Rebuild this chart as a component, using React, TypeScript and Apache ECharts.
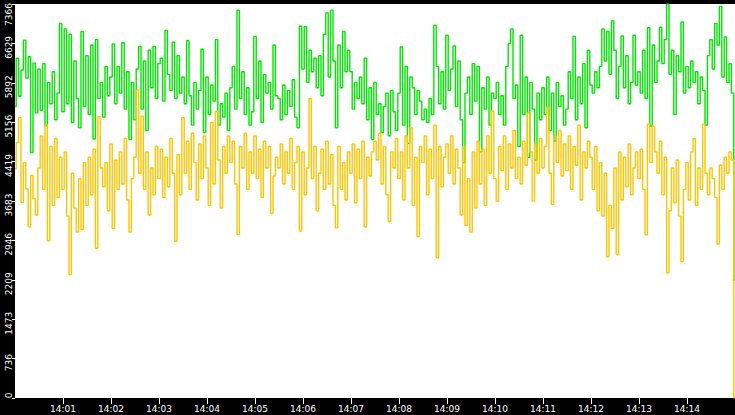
import React, { useEffect, useRef } from 'react';
import * as echarts from 'echarts';

// one sample every 3 seconds, 14:00:00 .. 14:15:00
const times: string[] = [];
for (let s = 0; s <= 900; s += 3) {
  const m = Math.floor(s / 60);
  const sec = s % 60;
  times.push(`14:${String(m).padStart(2, '0')}:${String(sec).padStart(2, '0')}`);
}

const greenValues = [
  5450, 6350, 5640, 6130, 6690, 5980, 6380, 4590, 6260, 5330,
  6150, 5380, 6250, 5090, 5900, 5500, 6100, 5200, 5700, 7000,
  5350, 6900, 5500, 6800, 5150, 6300, 5600, 5050, 6850, 5450,
  6400, 5300, 6600, 4840, 6700, 5600, 5900, 5250, 6200, 5650,
  6000, 6620, 5500, 6200, 5700, 6640, 5400, 6100, 4830, 5900,
  5200, 6150, 6570, 5400, 6300, 5000, 6500, 5800, 6570, 5600,
  6250, 6350, 5550, 6870, 6050, 5750, 6650, 5600, 6400, 5700,
  6000, 5500, 6680, 5650, 5100, 5900, 5400, 5750, 6520, 4960,
  6000, 5300, 5850, 5550, 6700, 5100, 5500, 5250, 5700, 5000,
  5800, 6200, 5400, 7250, 5600, 6100, 5300, 5800, 5100, 5350,
  6760, 5600, 6300, 5150, 6050, 5700, 5900, 5400, 6600, 5650,
  5600, 5200, 5850, 5300, 5750, 5450, 5950, 5250, 5050, 6950,
  6150, 6940, 5900, 6500, 6100, 6350, 5800, 6400, 5650, 6800,
  7200, 6000, 7250, 6300, 5050, 6600, 5800, 6850, 6100, 6500,
  6100, 5400, 5900, 5600, 6000, 5500, 6350, 5200, 5800, 4830,
  5900, 5300, 5500, 4960, 5450, 5700, 4900, 5750, 5350, 5000,
  5700, 6560, 5100, 6200, 4760, 6000, 5800, 5300, 5750, 5550,
  5200, 5400, 5150, 5600, 5300, 6970, 6200, 5500, 6100, 5400,
  6780, 5750, 6150, 6580, 5450, 6300, 5200, 4400, 5700, 6000,
  5300, 6250, 5550, 6200, 4600, 5800, 5400, 6000, 5100, 5700,
  5600, 5900, 5300, 5650, 5100, 6200, 6626, 6900, 5600, 5850,
  4700, 6780, 5300, 6000, 4500, 5900, 5400, 4450, 5700, 5200,
  5800, 5300, 6000, 5000, 5700, 4800, 5900, 5450, 5650, 5100,
  5400, 6100, 5600, 6760, 5200, 6000, 5500, 6250, 5050, 6500,
  5850, 5700, 6100, 5800, 6200, 6900, 6300, 6850, 6050, 7050,
  6500, 5600, 6200, 6770, 5800, 6400, 5500, 5900, 6780, 5850,
  6100, 5700, 6500, 5600, 6920, 5080, 6600, 5900, 6300, 6930,
  6250, 6700, 7366, 6050, 6500, 5300, 6400, 6100, 7030, 5700,
  6200, 5800, 6300, 5900, 6100, 5500, 6000, 5750, 5100, 6400,
  6700, 6150, 7000, 6600, 7320, 6000, 6750, 5900, 6250, 5700,
  2200,
];

const yellowValues = [
  4280, 4775, 5240, 3660, 4400, 3910, 3200, 4160, 3730, 3420,
  4300, 4900, 3900, 5100, 2940, 4700, 3600, 4850, 3750, 4500,
  3900, 4600, 3400, 2310, 4200, 3550, 3100, 4100, 3150, 4400,
  3600, 4500, 3800, 4650, 2800, 5260, 4300, 3950, 4400, 3500,
  4750, 3170, 4450, 3900, 4600, 4000, 4850, 3700, 3100, 4100,
  4500, 5760, 4200, 5270, 3900, 4600, 3420, 4300, 3800, 4700,
  4100, 4650, 3750, 4500, 3950, 4850, 4200, 2930, 4550, 3800,
  5240, 4200, 4800, 3900, 4950, 4400, 3700, 4750, 4100, 4900,
  4300, 3600, 5150, 4000, 5350, 4450, 3550, 4700, 4200, 4900,
  4400, 4800, 4000, 3060, 4700, 4300, 4950, 3900, 4600, 4200,
  4900, 4100, 4650, 3750, 4800, 4300, 4700, 3450, 4150, 4500,
  4300, 4750, 4000, 4600, 4200, 4850, 3900, 4400, 4700, 3120,
  4600, 3800, 4300, 5600, 4100, 4700, 3500, 4200, 4650, 3900,
  4800, 4000, 4550, 3600, 3180, 4700, 3900, 4400, 3700, 4600,
  4200, 4750, 3650, 4650, 4100, 4800, 3200, 4500, 4150, 4600,
  4800, 4450, 4950, 4000, 4700, 3800, 3300, 4600, 4300, 4850,
  4100, 4600, 3700, 4900, 4300, 5050, 3600, 4500, 3020, 4700,
  4400, 4900, 3800, 4650, 4100, 5100, 2620, 4700, 3950, 4500,
  4750, 4200, 4900, 4000, 4650, 4300, 3420, 4700, 3230, 4100,
  3100, 4600, 3550, 4800, 4000, 4650, 3600, 4900, 4200, 5360,
  4100, 3680, 4700, 4250, 4900, 3900, 4750, 4300, 5000, 4100,
  4500, 4000, 4800, 4350, 5330, 4600, 3680, 4750, 4200, 4850,
  4300, 4700, 5430, 4200, 3620, 4900, 4400, 5000, 4150, 4750,
  4250, 4900, 3900, 4700, 4350, 5100, 3700, 4600, 4300, 4800,
  4500, 3900, 4700, 3500, 4400, 3400, 4200, 2640, 3600, 3170,
  4300, 2680, 4600, 3700, 4500, 3950, 4750, 3800, 4300, 4600,
  4100, 4650, 3900, 3050, 5120, 4400, 5080, 4600, 4200, 4800,
  3800, 4500, 2340, 3500, 4300, 3650, 4450, 3400, 2550, 3900,
  4400, 3700, 4600, 4850, 3600, 4300, 3900, 5120, 4200, 3800,
  4300, 4100, 3750, 2880, 4350, 3900, 4500, 4200, 4600, 4450,
  0,
];

const yMax = 7366;
const yStep = 736.6;

const showMinute = (i: number) => i % 20 === 0 && i > 0 && i < times.length - 1;

const App: React.FC = () => {
  const chartRef = useRef<HTMLDivElement>(null);

  useEffect(() => {
    if (!chartRef.current) return;
    document.body.style.margin = '0';
    const chart = echarts.init(chartRef.current, undefined, { renderer: 'svg' });

    const font = 'DejaVu Sans';
    const option = {
      animation: false,
      backgroundColor: '#000',
      grid: {
        left: 15,
        right: 0,
        top: 0,
        bottom: 17,
        show: true,
        backgroundColor: '#fff',
        borderWidth: 0,
      },
      xAxis: {
        type: 'category',
        data: times,
        boundaryGap: false,
        axisLine: { show: false },
        axisTick: {
          show: true,
          length: 6,
          interval: (i: number) => showMinute(i),
          lineStyle: { color: '#fff', width: 1 },
        },
        axisLabel: {
          interval: (i: number) => showMinute(i),
          color: '#fff',
          fontSize: 9,
          fontFamily: font,
          margin: 6,
          formatter: (v: string) => v.slice(0, 5),
        },
        splitLine: { show: false },
      },
      yAxis: {
        type: 'value',
        min: 0,
        max: yMax,
        interval: yStep,
        axisLine: { show: false },
        axisTick: { show: true, length: 3, lineStyle: { color: '#fff', width: 1 } },
        splitLine: { show: false },
        axisLabel: {
          rotate: 90,
          margin: 2,
          color: '#fff',
          fontSize: 9,
          fontFamily: font,
          formatter: (v: number) => {
            const s = String(Math.floor(v + 1e-6));
            if (v >= yMax - 0.5) return `{t|${s}}`;
            if (v === 0) return `{b|${s}}`;
            return `{m|${s}}`;
          },
          rich: {
            t: { color: '#fff', fontSize: 9, fontFamily: font, padding: [0, 21, 0, 0] },
            b: { color: '#fff', fontSize: 9, fontFamily: font, padding: [0, 0, 0, 5] },
            m: { color: '#fff', fontSize: 9, fontFamily: font, padding: [0, 8, 0, 0] },
          },
        },
      },
      series: [
        {
          name: 'green',
          type: 'line',
          data: greenValues,
          step: 'middle',
          symbol: 'none',
          lineStyle: { color: '#00e600', width: 1.4 },
        },
        {
          name: 'yellow',
          type: 'line',
          data: yellowValues,
          step: 'middle',
          symbol: 'none',
          lineStyle: { color: '#ffc400', width: 1.4 },
        },
      ],
    };

    chart.setOption(option);
    return () => {
      chart.dispose();
    };
  }, []);

  return (
    <div
      ref={chartRef}
      style={{ position: 'absolute', left: 0, top: 0, width: '735px', height: '415px' }}
    />
  );
};

export default App;
